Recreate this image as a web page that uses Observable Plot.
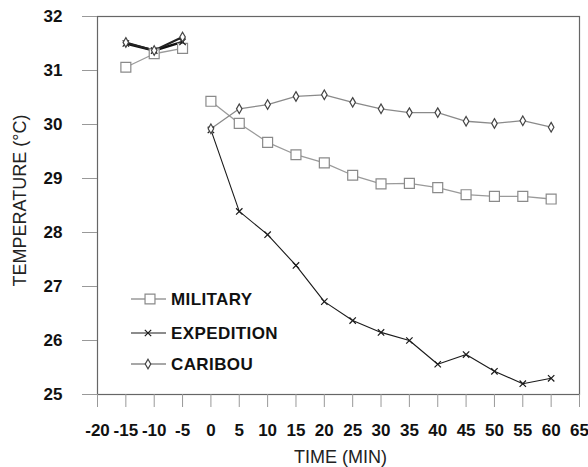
<!DOCTYPE html>
<html>
<head>
<meta charset="utf-8">
<script src="https://cdn.jsdelivr.net/npm/d3@7"></script>
<script src="https://cdn.jsdelivr.net/npm/@observablehq/plot@0.6"></script>
<style>
  html, body { margin: 0; padding: 0; background: #fff; }
  #chart svg { display: block; }
  g[aria-label="x-axis tick label"] text, g[aria-label="y-axis tick label"] text { font-weight: 600; }
</style>
</head>
<body>
<div id="chart"></div>
<script>
// Skin temperature before (-15 to -5 min) and during cold exposure (0 to 60 min)
const preTimes = [-15, -10, -5];
const postTimes = [0, 5, 10, 15, 20, 25, 30, 35, 40, 45, 50, 55, 60];

const militaryPre = [31.06, 31.31, 31.41];
const militaryPost = [30.43, 30.02, 29.67, 29.44, 29.29, 29.06, 28.90, 28.91, 28.83, 28.70, 28.67, 28.67, 28.62];

const expeditionPre = [31.50, 31.37, 31.53];
const expeditionPost = [29.90, 28.39, 27.96, 27.39, 26.72, 26.37, 26.15, 26.00, 25.56, 25.74, 25.43, 25.20, 25.30];

const caribouPre = [31.52, 31.37, 31.62];
const caribouPost = [29.92, 30.29, 30.37, 30.52, 30.55, 30.41, 30.29, 30.22, 30.22, 30.06, 30.02, 30.07, 29.95];

const xTicks = [-20, -15, -10, -5, 0, 5, 10, 15, 20, 25, 30, 35, 40, 45, 50, 55, 60, 65];
const yTicks = [25, 26, 27, 28, 29, 30, 31, 32];

const seriesNames = ["MILITARY", "EXPEDITION", "CARIBOU"];

// Long-format rows; "phase" splits each series into its two separate line segments
function rows(name, phase, times, values) {
  return times.map((t, i) => ({series: name, phase, time: t, temp: values[i]}));
}
const data = [
  ...rows("MILITARY", "pre", preTimes, militaryPre),
  ...rows("MILITARY", "post", postTimes, militaryPost),
  ...rows("EXPEDITION", "pre", preTimes, expeditionPre),
  ...rows("EXPEDITION", "post", postTimes, expeditionPost),
  ...rows("CARIBOU", "pre", preTimes, caribouPre),
  ...rows("CARIBOU", "post", postTimes, caribouPost)
];

const style = {
  MILITARY:   {line: "#9a9a9a", width: 1.3, symbol: "square",  r: 5.6, mark: "#8a8a8a", fill: "#fff"},
  EXPEDITION: {line: "#1a1a1a", width: 1.1, symbol: "times",   r: 3.0, mark: "#1a1a1a", fill: "none"},
  CARIBOU:    {line: "#8a8a8a", width: 1.3, symbol: "diamond", r: 2.9, mark: "#444",    fill: "#fff"}
};
const preWidth = {MILITARY: 1.3, EXPEDITION: 2.4, CARIBOU: 2.0};
const preColor = {MILITARY: "#9a9a9a", EXPEDITION: "#111", CARIBOU: "#222"};

const lineMarks = seriesNames.flatMap(name => [
  Plot.line(data.filter(d => d.series === name && d.phase === "post"), {
    x: "time", y: "temp", stroke: style[name].line, strokeWidth: style[name].width
  }),
  Plot.line(data.filter(d => d.series === name && d.phase === "pre"), {
    x: "time", y: "temp", stroke: preColor[name], strokeWidth: preWidth[name]
  })
]);

const dotMarks = seriesNames.map(name =>
  Plot.dot(data.filter(d => d.series === name), {
    x: "time", y: "temp", symbol: style[name].symbol, r: style[name].r,
    stroke: style[name].mark, fill: style[name].fill, strokeWidth: 1.2
  })
);

// Legend in the lower-left of the plotting area
function legend() {
  return (index, scales, values, dims) => {
    const g = d3.create("svg:g").attr("aria-label", "legend").attr("text-anchor", "start");
    const rowsY = [299, 333, 364];
    seriesNames.forEach((name, i) => {
      const s = style[name];
      const y = rowsY[i];
      g.append("line").attr("x1", 131).attr("x2", 166).attr("y1", y).attr("y2", y)
        .attr("stroke", s.line).attr("stroke-width", s.width);
      const symType = {square: d3.symbolSquare, times: d3.symbolTimes, diamond: d3.symbolDiamond}[s.symbol];
      g.append("path")
        .attr("d", d3.symbol(symType, Math.PI * s.r * s.r)())
        .attr("transform", `translate(${name === "MILITARY" ? 150 : 148},${y})`)
        .attr("stroke", s.mark).attr("fill", s.fill).attr("stroke-width", 1.2);
      g.append("text").attr("x", 171).attr("y", y).attr("dy", "0.36em")
        .attr("font-size", 17).attr("font-weight", 600).attr("fill", "#111")
        .attr("letter-spacing", 0.4)
        .text(name);
    });
    return g.node();
  };
}

const chart = Plot.plot({
  width: 588,
  height: 467,
  marginLeft: 97,
  marginRight: 9,
  marginTop: 16,
  marginBottom: 73,
  style: {fontFamily: "'Liberation Sans', Arial, sans-serif", fontSize: "17px", color: "#111", background: "#fff"},
  x: {domain: [-20, 65]},
  y: {domain: [25, 32]},
  marks: [
    Plot.frame({stroke: "#666", strokeWidth: 1.2}),
    Plot.axisY({ticks: yTicks, tickSize: 15, tickPadding: 20, stroke: "#999", fontSize: 17, label: null, tickFormat: d => String(d)}),
    Plot.axisX({ticks: xTicks, tickSize: 13, tickPadding: 16, stroke: "#999", fontSize: 17, label: null, tickFormat: d => String(d).replace("−", "-")}),
    Plot.text(["TEMPERATURE (°C)"], {frameAnchor: "left", textAnchor: "middle", lineAnchor: "middle", dx: -77, dy: -5, rotate: -90, text: d => d, fontSize: 18, fill: "#222"}),
    Plot.text(["TIME (MIN)"], {frameAnchor: "bottom", textAnchor: "middle", lineAnchor: "middle", dx: 2, dy: 63, text: d => d, fontSize: 18, fill: "#222"}),
    ...lineMarks,
    ...dotMarks,
    legend()
  ]
});

document.getElementById("chart").appendChild(chart);
</script>
</body>
</html>
